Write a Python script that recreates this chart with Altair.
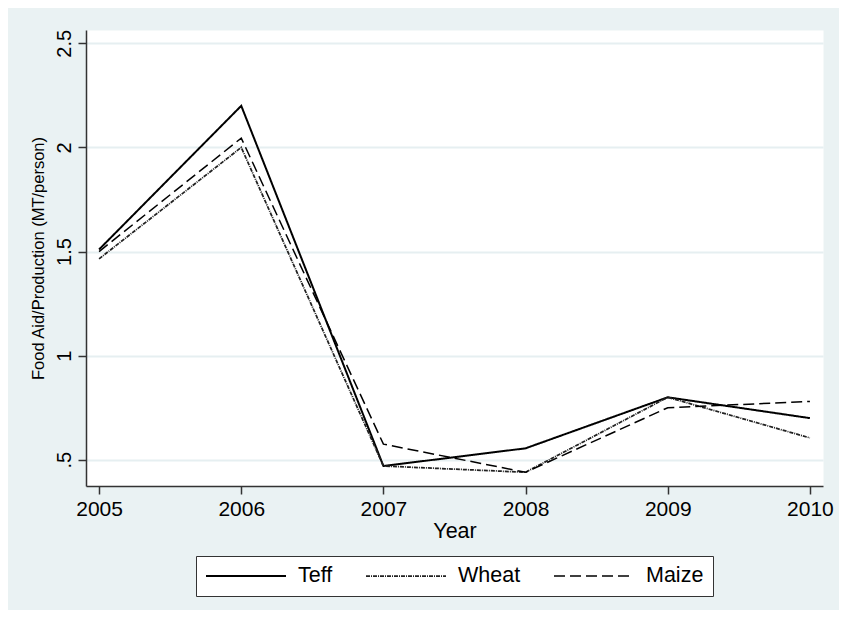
import altair as alt
import pandas as pd

years = [2005, 2006, 2007, 2008, 2009, 2010]
crops = ["Teff", "Wheat", "Maize"]
teff = [1.51, 2.20, 0.47, 0.555, 0.80, 0.70]
wheat = [1.465, 2.00, 0.47, 0.44, 0.80, 0.605]
maize = [1.50, 2.045, 0.575, 0.44, 0.75, 0.78]
y_ticks = [0.5, 1, 1.5, 2, 2.5]
y_tick_labels = [".5", "1", "1.5", "2", "2.5"]

rows = []
for crop, vals in zip(crops, [teff, wheat, maize]):
    for yr, v in zip(years, vals):
        rows.append({"Year": yr, "Value": v, "Crop": crop})
df = pd.DataFrame(rows)

font = "Liberation Sans"
axis_col = "#333333"
grid_col = "#e6eff1"

label_map = "{" + ",".join(f"'{v}':'{l}'" for v, l in zip(y_ticks, y_tick_labels)) + "}"

legend = alt.Legend(
    orient="none", legendX=110, legendY=526, direction="horizontal",
    title=None, strokeColor=axis_col, fillColor="white", padding=9,
    symbolType="stroke", symbolSize=6400, clipHeight=22,
    labelFontSize=21.5, labelFont=font,
    labelColor="black", labelOffset=11, columnPadding=32,
)

chart = alt.Chart(df).mark_line().encode(
    x=alt.X(
        "Year:Q",
        scale=alt.Scale(domain=[2004.908, 2010.092], nice=False, zero=False),
        axis=alt.Axis(
            values=years, format="d", title="Year", grid=False,
            tickSize=8, labelFontSize=21, labelPadding=4,
            titleFontSize=21.5, titlePadding=1, titleFontWeight="normal",
        ),
    ),
    y=alt.Y(
        "Value:Q",
        scale=alt.Scale(domain=[0.374, 2.564], nice=False, zero=False),
        axis=alt.Axis(
            values=y_ticks, title="Food Aid/Production (MT/person)",
            labelAngle=270, labelAlign="center", labelBaseline="alphabetic",
            labelPadding=8, tickSize=8, labelFontSize=20,
            labelExpr=f"{label_map}[''+datum.value]",
            grid=True, gridColor=grid_col, gridWidth=2,
            titleFontSize=16.5, titleFontWeight="normal", titlePadding=8,
        ),
    ),
    strokeDash=alt.StrokeDash(
        "Crop:N",
        scale=alt.Scale(domain=crops, range=[[1, 0], [4, 1, 1, 1], [11, 5]]),
        legend=legend,
    ),
    strokeWidth=alt.StrokeWidth(
        "Crop:N", scale=alt.Scale(domain=crops, range=[2, 1.5, 2]), legend=legend
    ),
    color=alt.Color(
        "Crop:N",
        scale=alt.Scale(domain=crops, range=["#000000", "#222222", "#000000"]),
        legend=legend,
    ),
).properties(
    width=737,
    height=456,
    padding={"left": 78, "top": 22, "right": 16, "bottom": 124},
    autosize=alt.AutoSizeParams(type="none"),
    background="#eaf2f3",
).configure_view(
    stroke="transparent", fill="white"
).configure_axis(
    domainColor=axis_col, domainWidth=1.5, tickColor=axis_col, tickWidth=1.5,
    labelFont=font, titleFont=font, labelColor="black", titleColor="black",
)

chart.save("out.html", embed_options={"renderer": "svg", "actions": False})
